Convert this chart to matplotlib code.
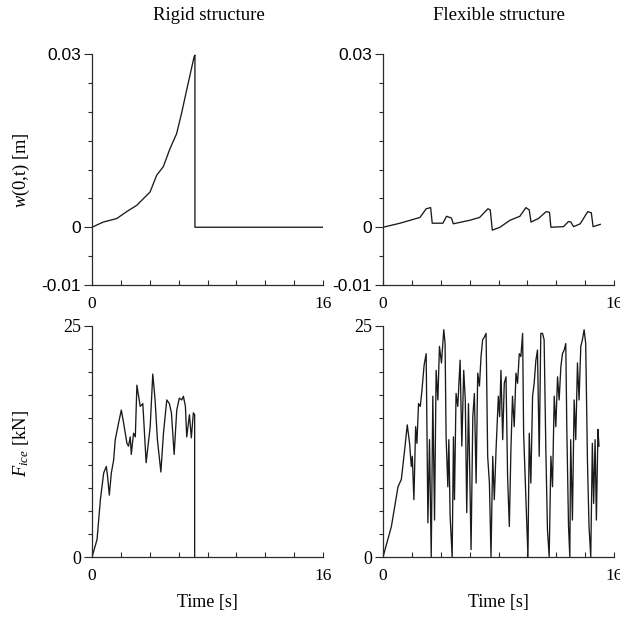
import matplotlib
matplotlib.use("Agg")
import matplotlib.pyplot as plt
from matplotlib.ticker import MultipleLocator, FixedLocator

plt.rcParams['font.family'] = ['Liberation Serif', 'DejaVu Serif']
plt.rcParams['mathtext.fontset'] = 'custom'
plt.rcParams['mathtext.rm'] = 'Liberation Serif'
plt.rcParams['mathtext.it'] = 'Liberation Serif:italic'

# ---- data ----
col_titles = ["Rigid structure", "Flexible structure"]
ylabel_w = r"$w$(0,t) [m]"
ylabel_f = r"$F_{ice}$ [kN]"
xlabel = "Time [s]"
w_ticklabels = ['-0.01', '0', '0.03']
f_ticklabels = ['0', '25']
x_ticklabels = ['0', '16']

t_w_rigid = [0, 0.78, 1.71, 2.4, 3.1, 4.02, 4.48, 4.94, 5.4, 5.86, 6.2, 6.56, 7.07, 7.13, 7.13, 16]
w_rigid = [0, 0.0009, 0.0015, 0.0027, 0.0038, 0.0061, 0.009, 0.0105, 0.0136, 0.0162, 0.0197,
           0.0238, 0.0295, 0.0298, 0.0, 0.0]

t_w_flex = [0, 1.18, 2.56, 2.99, 3.3, 3.41, 4.15, 4.4, 4.74, 4.87, 6.0, 6.69, 7.27, 7.43, 7.57,
            8.1, 8.79, 9.48, 9.9, 10.13, 10.25, 10.76, 11.3, 11.53, 11.63, 12.5, 12.85, 13.01,
            13.2, 13.66, 14.18, 14.43, 14.55, 15.05]
w_flex = [0, 0.0007, 0.0017, 0.0032, 0.0034, 0.0007, 0.0007, 0.0019, 0.0016, 0.0006, 0.0012,
          0.0017, 0.0032, 0.003, -0.0005, 0.0, 0.0012, 0.0019, 0.0034, 0.003, 0.0009, 0.0015,
          0.0027, 0.0026, 0.0, 0.0001, 0.001, 0.0009, 0.0001, 0.0006, 0.0027, 0.0025, 0.0001,
          0.0005]

t_f_rigid = [0, 0.35, 0.58, 0.81, 0.99, 1.08, 1.2, 1.34, 1.5, 1.61, 1.84, 2.03, 2.19, 2.42, 2.53,
             2.65, 2.72, 2.88, 3.0, 3.11, 3.34, 3.52, 3.75, 4.03, 4.21, 4.37, 4.53, 4.77, 4.95,
             5.18, 5.36, 5.5, 5.69, 5.87, 6.05, 6.22, 6.33, 6.47, 6.56, 6.75, 6.88, 7.02, 7.11,
             7.11]
f_rigid = [0, 1.9, 6.2, 9.1, 9.8, 8.7, 6.7, 9.1, 10.5, 12.7, 14.5, 15.9, 14.5, 12.3, 12.0, 13.0,
           11.1, 13.4, 13.0, 18.6, 16.3, 16.6, 10.2, 14.1, 19.8, 17.0, 12.7, 9.2, 13.4, 17.0,
           16.6, 15.6, 11.1, 15.9, 17.2, 17.0, 17.4, 16.3, 13.0, 15.4, 12.9, 15.6, 15.4, 0.0]

t_f_flex = [0, 0.58, 1.04, 1.27, 1.5, 1.68, 1.84, 1.96, 2.03, 2.14, 2.26, 2.35, 2.46, 2.58, 2.69,
            2.85, 2.99, 3.11, 3.22, 3.34, 3.45, 3.57, 3.68, 3.8, 3.91, 4.05, 4.21, 4.3, 4.37,
            4.49, 4.56, 4.65, 4.79, 4.88, 4.95, 5.06, 5.18, 5.34, 5.46, 5.59, 5.7, 5.8, 5.92,
            6.0, 6.1, 6.22, 6.33, 6.45, 6.56, 6.68, 6.79, 6.9, 7.02, 7.14, 7.25, 7.37, 7.48,
            7.6, 7.71, 7.83, 7.99, 8.08, 8.17, 8.29, 8.4, 8.52, 8.63, 8.75, 8.86, 8.97, 9.09,
            9.21, 9.32, 9.44, 9.55, 9.67, 9.74, 9.9, 10.04, 10.13, 10.24, 10.36, 10.47, 10.59,
            10.7, 10.82, 10.93, 11.05, 11.16, 11.28, 11.39, 11.51, 11.63, 11.74, 11.86, 11.97,
            12.09, 12.2, 12.32, 12.43, 12.55, 12.66, 12.73, 12.85, 12.94, 13.0, 13.12, 13.24,
            13.35, 13.47, 13.58, 13.7, 13.81, 13.93, 14.04, 14.16, 14.27, 14.39, 14.5, 14.59,
            14.69, 14.78, 14.89, 14.96]
f_flex = [0, 3.3, 7.6, 8.4, 11.6, 14.3, 12.3, 9.8, 10.9, 6.2, 14.1, 12.3, 16.6, 16.3, 17.9,
          20.8, 22.0, 3.7, 12.7, 0.0, 17.4, 4.0, 20.2, 17.0, 22.8, 21.0, 24.6, 23.1, 13.0, 7.6,
          12.7, 4.4, 0.0, 13.0, 6.2, 17.7, 16.3, 21.3, 12.0, 20.2, 17.0, 4.8, 16.6, 10.0, 0.8,
          15.2, 17.7, 8.0, 19.9, 18.5, 21.7, 23.5, 23.8, 24.2, 10.9, 8.0, 0.0, 10.9, 6.2, 11.6,
          17.4, 15.2, 20.2, 12.7, 18.8, 19.5, 8.7, 3.3, 11.6, 17.4, 14.1, 19.9, 18.8, 22.0,
          21.7, 24.2, 13.4, 6.2, 0.0, 13.4, 8.0, 17.4, 18.8, 21.3, 22.4, 10.9, 24.2, 24.2, 23.5,
          11.6, 3.0, 0.0, 10.9, 7.6, 17.4, 14.1, 19.5, 17.0, 20.6, 22.0, 22.4, 23.1, 14.1, 3.3,
          0.0, 12.7, 4.0, 17.0, 12.7, 21.0, 17.0, 22.8, 23.5, 24.6, 23.1, 10.5, 3.3, 0.0, 12.3,
          5.8, 12.7, 4.0, 13.8, 12.0]

series = [
    [(t_w_rigid, w_rigid), (t_w_flex, w_flex)],
    [(t_f_rigid, f_rigid), (t_f_flex, f_flex)],
]

# ---- figure ----
W, H = 620, 617
fig = plt.figure(figsize=(W / 100, H / 100), dpi=100)

def px_axes(x0, y0, x1, y1):
    return fig.add_axes([x0 / W, 1 - y1 / H, (x1 - x0) / W, (y1 - y0) / H])

axes = [[px_axes(92, 54, 323, 285), px_axes(383, 54, 614, 285)],
        [px_axes(92, 326, 323, 557), px_axes(383, 326, 614, 557)]]

spine_col = '#2a2a2a'
for r in range(2):
    for c in range(2):
        ax = axes[r][c]
        t, v = series[r][c]
        ax.plot(t, v, color='#1a1a1a', lw=0.95)
        ax.set_xlim(0, 16)
        ax.xaxis.set_major_locator(FixedLocator([0, 16]))
        ax.xaxis.set_minor_locator(MultipleLocator(2))
        ax.set_xticklabels(x_ticklabels, fontsize=12.5)
        if r == 0:
            ax.set_ylim(-0.01, 0.03)
            ax.yaxis.set_major_locator(FixedLocator([-0.01, 0, 0.03]))
            ax.yaxis.set_minor_locator(MultipleLocator(0.005))
            ax.set_yticklabels(w_ticklabels, fontsize=12.5,
                               family=['Liberation Sans', 'DejaVu Sans'])
        else:
            ax.set_ylim(0, 25)
            ax.yaxis.set_major_locator(FixedLocator([0, 25]))
            ax.yaxis.set_minor_locator(MultipleLocator(2.5))
            ax.set_yticklabels(f_ticklabels, fontsize=13)
        for s in ['top', 'right']:
            ax.spines[s].set_visible(False)
        for s in ['left', 'bottom']:
            ax.spines[s].set_color(spine_col)
            ax.spines[s].set_linewidth(0.9)
        ax.tick_params(axis='x', which='both', direction='in', length=3.6, width=0.8,
                       color=spine_col, pad=8)
        ax.tick_params(axis='y', which='major', direction='out', length=5.8, width=0.8,
                       color=spine_col, pad=2)
        ax.tick_params(axis='y', which='minor', direction='out', length=2.9, width=0.8,
                       color=spine_col)
        ax.patch.set_alpha(0)

fig.text(209 / W, 1 - 15 / H, col_titles[0], ha='center', va='center', fontsize=13.5)
fig.text(499 / W, 1 - 15 / H, col_titles[1], ha='center', va='center', fontsize=13.5)
fig.text(21 / W, 1 - 170 / H, ylabel_w, ha='center', va='center', rotation=90, fontsize=13.3)
fig.text(21 / W, 1 - 443 / H, ylabel_f, ha='center', va='center', rotation=90, fontsize=13.3)
fig.text(207 / W, 1 - 603 / H, xlabel, ha='center', va='center', fontsize=13)
fig.text(498 / W, 1 - 603 / H, xlabel, ha='center', va='center', fontsize=13)

fig.savefig('out.png', dpi=100, facecolor='white')
